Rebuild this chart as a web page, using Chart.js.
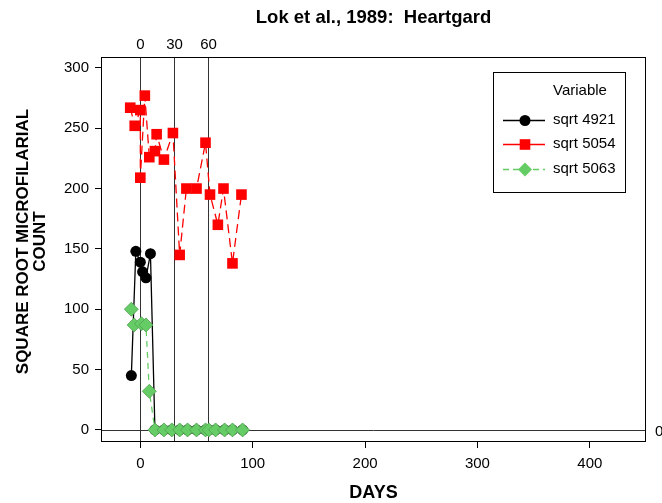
<!DOCTYPE html>
<html><head><meta charset="utf-8">
<script src="https://cdn.jsdelivr.net/npm/chart.js@4/dist/chart.umd.min.js"></script>
<style>html,body{margin:0;padding:0;background:#fff;}#wrap{width:662px;height:503px;}</style>
</head><body><div id="wrap"><canvas id="c" width="662" height="503"></canvas></div>
<script>
// ---- data ----
const days4921 = [-8, -4, 0, 2, 5, 9, 13, 21, 28, 35, 42, 50, 58, 61, 67, 75, 82, 91];
const vals4921 = [45, 148, 139, 131, 126, 146, 0, 0, 0, 0, 0, 0, 0, 0, 0, 0, 0, 0];
const days5054 = [-9, -5, 0, 0, 4, 8, 13, 14.5, 21, 29, 35, 41, 50, 58, 62, 69, 74, 82, 90];
const vals5054 = [267, 252, 265, 209, 277, 226, 231, 245, 224, 246, 145, 200, 200, 238, 195, 170, 200, 138, 195];
const days5063 = [-8, -5.5, 1, 5, 8, 13, 21, 28, 35, 42, 50, 58, 61, 67, 75, 82, 91];
const vals5063 = [100, 87, 88, 87, 32, 0, 0, 0, 0, 0, 0, 0, 0, 0, 0, 0, 0];
const seriesNames = ['sqrt 4921', 'sqrt 5054', 'sqrt 5063'];
const xTickValues = [0, 100, 200, 300, 400];
const yTickValues = [0, 50, 100, 150, 200, 250, 300];
const refDays = [0, 30, 60];
const refCounts = [0];
const titleText = 'Lok et al., 1989:  Heartgard';
const xTitle = 'DAYS';
const yTitleLines = ['SQUARE ROOT MICROFILARIAL', 'COUNT'];
const legendTitle = 'Variable';

const FONT = '"Liberation Sans", Arial, sans-serif';
const zip = (xs, ys) => xs.map((x, i) => ({x, y: ys[i]}));

const styles = [
  {color: '#000000', fill: '#000000', dash: [], legendDash: [], pointStyle: 'circle', r: 5.5, order: 2},
  {color: '#ff0000', fill: '#ff0000', dash: [9, 5], legendDash: [], pointStyle: 'rect', r: 7.5, order: 1},
  {color: '#66cc66', fill: '#66cc66', dash: [6, 5], legendDash: [6, 4], pointStyle: 'rectRot', r: 7, order: 0}
];
const allData = [zip(days4921, vals4921), zip(days5054, vals5054), zip(days5063, vals5063)];

const overlay = {
  id: 'overlay',
  beforeDatasetsDraw(chart) {
    const {ctx, chartArea: a, scales: {x, y}} = chart;
    ctx.save();
    ctx.strokeStyle = '#333';
    ctx.lineWidth = 1;
    ctx.fillStyle = '#000';
    ctx.font = '15px ' + FONT;
    ctx.textAlign = 'center';
    ctx.textBaseline = 'middle';
    refDays.forEach(v => {
      const px = Math.round(x.getPixelForValue(v)) + 0.5;
      ctx.beginPath(); ctx.moveTo(px, a.top); ctx.lineTo(px, a.bottom); ctx.stroke();
      ctx.fillText(String(v), px, a.top - 12);
    });
    ctx.textAlign = 'left';
    refCounts.forEach(v => {
      const py = Math.round(y.getPixelForValue(v)) + 0.5;
      ctx.beginPath(); ctx.moveTo(a.left, py); ctx.lineTo(a.right, py); ctx.stroke();
      ctx.fillText(String(v), a.right + 9, py + 1);
    });
    ctx.restore();
  },
  afterDraw(chart) {
    const {ctx, chartArea: a} = chart;
    ctx.save();
    ctx.strokeStyle = '#000';
    ctx.lineWidth = 1;
    ctx.strokeRect(Math.round(a.left) + 0.5, Math.round(a.top) + 0.5, Math.round(a.right - a.left) - 1, Math.round(a.bottom - a.top) - 1);
    ctx.fillStyle = '#000';
    // title
    ctx.font = 'bold 18.5px ' + FONT;
    ctx.textAlign = 'center';
    ctx.textBaseline = 'middle';
    ctx.fillText(titleText, (a.left + a.right) / 2, 18);
    // x title
    ctx.font = 'bold 18px ' + FONT;
    ctx.fillText(xTitle, (a.left + a.right) / 2, 493);
    // y title
    ctx.font = 'bold 17px ' + FONT;
    ctx.save();
    ctx.translate(23, (a.top + a.bottom) / 2 - 8);
    ctx.rotate(-Math.PI / 2);
    ctx.fillText(yTitleLines[0], 0, 0);
    ctx.fillText(yTitleLines[1], 0, 17);
    ctx.restore();
    // legend
    const lx = 493, ly = 72, lw = 132, lh = 120;
    ctx.strokeRect(lx + 0.5, ly + 0.5, lw, lh);
    ctx.font = '15px ' + FONT;
    ctx.textAlign = 'left';
    ctx.fillText(legendTitle, 553, 91);
    const rows = [120, 144, 169];
    seriesNames.forEach((name, i) => {
      const s = styles[i];
      const yy = rows[i] + 0.5;
      ctx.save();
      ctx.strokeStyle = s.color; ctx.lineWidth = 1.3; ctx.setLineDash(s.legendDash);
      ctx.beginPath(); ctx.moveTo(503, yy); ctx.lineTo(545, yy); ctx.stroke();
      ctx.restore();
      ctx.save();
      ctx.fillStyle = s.fill; ctx.strokeStyle = s.fill;
      Chart.helpers.drawPoint(ctx, {pointStyle: s.pointStyle, radius: s.r, borderWidth: 0}, 525, yy);
      ctx.restore();
      ctx.fillStyle = '#000';
      ctx.fillText(name, 553, rows[i]);
    });
    ctx.restore();
  }
};

new Chart(document.getElementById('c'), {
  type: 'scatter',
  data: {
    datasets: allData.map((d, i) => ({
      label: seriesNames[i],
      data: d,
      order: styles[i].order,
      showLine: true,
      borderColor: styles[i].color,
      backgroundColor: styles[i].fill,
      borderWidth: 1.3,
      borderDash: styles[i].dash,
      pointStyle: styles[i].pointStyle,
      pointRadius: styles[i].r,
      pointBorderWidth: i === 2 ? 0.8 : 0,
      pointBorderColor: i === 2 ? '#4f9f4f' : styles[i].color,
      pointBackgroundColor: styles[i].fill,
      tension: 0
    }))
  },
  options: {
    responsive: false,
    animation: false,
    layout: {padding: {left: 0, right: 16, top: 57, bottom: 0}},
    plugins: {legend: {display: false}, tooltip: {enabled: false}, title: {display: false}},
    scales: {
      x: {
        type: 'linear', min: -35, max: 450,
        afterBuildTicks: s => { s.ticks = xTickValues.map(v => ({value: v})); },
        afterFit: s => { s.height = 61; },
        grid: {drawOnChartArea: false, drawTicks: true, tickLength: 6, color: '#000'},
        border: {display: false},
        ticks: {color: '#000', font: {family: FONT, size: 15}, padding: 7, maxRotation: 0}
      },
      y: {
        type: 'linear', min: -10, max: 309,
        afterBuildTicks: s => { s.ticks = yTickValues.map(v => ({value: v})); },
        afterFit: s => { s.width = 101; },
        grid: {drawOnChartArea: false, drawTicks: true, tickLength: 6, color: '#000'},
        border: {display: false},
        ticks: {color: '#000', font: {family: FONT, size: 15}, padding: 6}
      }
    }
  },
  plugins: [overlay]
});
</script></body></html>
